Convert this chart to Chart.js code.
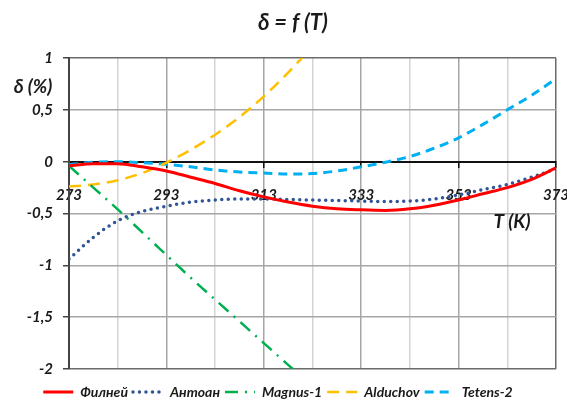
<!DOCTYPE html>
<html>
<head>
<meta charset="utf-8">
<script src="https://cdn.jsdelivr.net/npm/chart.js@4"></script>
<style>
  html, body { margin: 0; padding: 0; background: #fff; }
  #wrap { width: 567px; height: 400px; }
</style>
</head>
<body>
<div id="wrap"><canvas id="c" width="567" height="400"></canvas></div>
<script>
// Temperature grid, K
const temps = [273, 278, 283, 288, 293, 298, 303, 308, 313, 318, 323, 328, 333, 338, 343, 348, 353, 358, 363, 368, 373];

// Relative deviation δ, %
const filney   = [-0.04, -0.02, -0.02, -0.05, -0.09, -0.15, -0.21, -0.28, -0.34, -0.39, -0.43, -0.455, -0.465, -0.47, -0.455, -0.42, -0.37, -0.31, -0.25, -0.17, -0.06];
const antoan   = [-0.94, -0.73, -0.57, -0.48, -0.43, -0.39, -0.37, -0.36, -0.36, -0.365, -0.37, -0.375, -0.38, -0.385, -0.38, -0.36, -0.32, -0.27, -0.22, -0.15, -0.07];
const magnus1  = [-0.04, -0.25, -0.46, -0.68, -0.90, -1.12, -1.33, -1.54, -1.75, -1.96, -2.17];
const alduchov = [-0.24, -0.22, -0.18, -0.11, -0.01, 0.115, 0.26, 0.43, 0.63, 0.86, 1.11];
const tetens2  = [-0.03, -0.005, 0.0, -0.01, -0.025, -0.05, -0.08, -0.10, -0.11, -0.12, -0.115, -0.09, -0.05, -0.005, 0.05, 0.13, 0.23, 0.36, 0.50, 0.64, 0.80];

const seriesNames = ['Филней', 'Антоан', 'Magnus-1', 'Alduchov', 'Tetens-2'];

const FONT = 'Lato, "Liberation Sans", sans-serif';
const toPoints = (vals) => vals.map((v, i) => ({ x: temps[i], y: v }));

const lineDefaults = {
  pointRadius: 0,
  pointHoverRadius: 0,
  fill: false,
  cubicInterpolationMode: 'monotone'
};

// Heading and free-standing axis captions; the legend row sits a little lower
const captions = {
  id: 'captions',
  afterLayout(chart) {
    const lg = chart.legend;
    if (lg) { lg.top += 11; lg.bottom += 11; }
  },
  afterDraw(chart) {
    const ctx = chart.ctx;
    ctx.save();
    ctx.fillStyle = '#1a1a1a';
    ctx.textAlign = 'center';
    ctx.textBaseline = 'middle';
    ctx.font = 'italic bold 22px ' + FONT;
    ctx.fillText('δ = f (T)', 293, 23);
    ctx.font = 'italic bold 19px ' + FONT;
    ctx.fillText('δ (%)', 33, 87);
    ctx.fillText('T (K)', 512, 222);
    ctx.restore();
  }
};

// Legend samples drawn with each dataset's own stroke style
const legendLabels = (chart) => {
  const items = Chart.defaults.plugins.legend.labels.generateLabels(chart);
  return items.map((it) => {
    const ds = chart.data.datasets[it.datasetIndex];
    return Object.assign(it, {
      pointStyle: 'line',
      lineWidth: ds.borderWidth,
      lineDash: ds.borderDash || [],
      lineCap: ds.borderCapStyle || 'butt',
      strokeStyle: ds.borderColor,
      fillStyle: ds.borderColor
    });
  });
};

new Chart(document.getElementById('c'), {
  type: 'line',
  data: {
    datasets: [
      Object.assign({}, lineDefaults, {
        label: seriesNames[0], data: toPoints(filney),
        borderColor: '#FF0000', backgroundColor: '#FF0000', borderWidth: 3
      }),
      Object.assign({}, lineDefaults, {
        label: seriesNames[1], data: toPoints(antoan),
        borderColor: '#2F5597', backgroundColor: '#2F5597', borderWidth: 3.5,
        borderDash: [0, 6.5], borderCapStyle: 'round'
      }),
      Object.assign({}, lineDefaults, {
        label: seriesNames[2], data: toPoints(magnus1),
        borderColor: '#00B050', backgroundColor: '#00B050', borderWidth: 2.5,
        borderDash: [13, 7, 2, 7]
      }),
      Object.assign({}, lineDefaults, {
        label: seriesNames[3], data: toPoints(alduchov),
        borderColor: '#FFC000', backgroundColor: '#FFC000', borderWidth: 2.5,
        borderDash: [12, 7]
      }),
      Object.assign({}, lineDefaults, {
        label: seriesNames[4], data: toPoints(tetens2),
        borderColor: '#00B0F0', backgroundColor: '#00B0F0', borderWidth: 3,
        borderDash: [9, 6]
      })
    ]
  },
  options: {
    responsive: false,
    animation: false,
    events: [],
    layout: { padding: { left: 0, right: 11, top: 58, bottom: 2 } },
    plugins: {
      title: { display: false },
      legend: {
        display: true,
        position: 'bottom',
        labels: {
          usePointStyle: true,
          pointStyle: 'line',
          pointStyleWidth: 30,
          boxHeight: 14,
          padding: 5,
          color: '#1a1a1a',
          font: { family: FONT, size: 14, weight: 'bold', style: 'italic' },
          generateLabels: legendLabels
        }
      },
      tooltip: { enabled: false }
    },
    scales: {
      x: {
        type: 'linear',
        position: { y: 0 },
        min: 273,
        max: 373,
        afterFit: (s) => { s.paddingLeft = 0; s.paddingRight = 0; },
        ticks: {
          stepSize: 10,
          autoSkip: false,
          maxRotation: 0,
          padding: 19,
          color: '#1a1a1a',
          font: { family: FONT, size: 15, weight: 'bold', style: 'italic' },
          callback: (v) => ((v - 273) % 20 === 0 ? String(v) : '')
        },
        grid: {
          drawOnChartArea: true,
          tickLength: 5,
          lineWidth: 1.5,
          color: (c) => {
            const v = c.tick ? c.tick.value : 0;
            if (v === 373) return '#6b6b6b';
            return (v - 273) % 20 === 0 ? '#a6a6a6' : '#d4d4d4';
          },
          tickColor: (c) => {
            const v = c.tick ? c.tick.value : 0;
            return (v - 273) % 20 === 0 ? '#111' : 'rgba(0,0,0,0)';
          }
        },
        border: { display: true, color: '#111', width: 2 }
      },
      y: {
        type: 'linear',
        min: -2,
        max: 1,
        afterFit: (s) => { s.width = 69; },
        ticks: {
          stepSize: 0.5,
          padding: 10,
          color: '#1a1a1a',
          font: { family: FONT, size: 15, weight: 'bold', style: 'italic' },
          callback: (v) => String(v).replace('.', ',')
        },
        grid: {
          tickLength: 6,
          lineWidth: 1.5,
          color: (c) => {
            const v = c.tick ? c.tick.value : 0;
            return (v === 1 || v === -2) ? '#6b6b6b' : '#a6a6a6';
          },
          tickColor: '#444'
        },
        border: { display: true, color: '#444', width: 2 }
      }
    }
  },
  plugins: [captions]
});
</script>
</body>
</html>
